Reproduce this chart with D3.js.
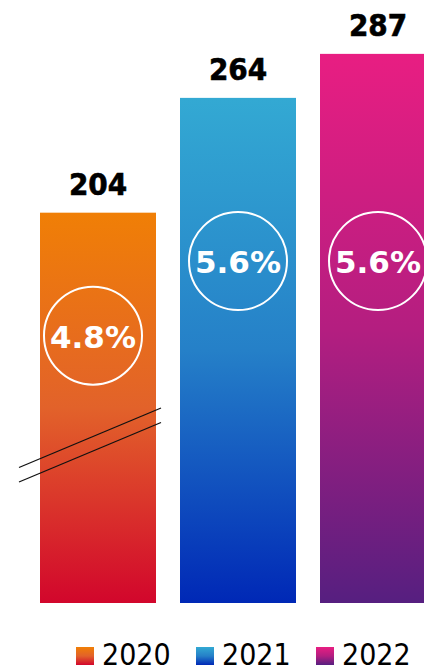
<!DOCTYPE html>
<html><head><meta charset="utf-8">
<script src="https://cdn.jsdelivr.net/npm/d3@7"></script>
<style>
html,body{margin:0;padding:0;background:#fff;}
svg{display:block;}
</style></head>
<body>
<div id="chart"></div>
<script>
const years = ["2020", "2021", "2022"];
const values = [204, 264, 287];
const growth = ["4.8%", "5.6%", "5.6%"];
const topColors = ["#F07F06", "#33A9D3", "#E81E82"];
const midColors = ["#E2622A", "#2580C8", "#B41E80"];
const bottomColors = ["#D2062C", "#0028B6", "#561F80"];

const W = 424, H = 672;
const svg = d3.select("#chart").append("svg").attr("width", W).attr("height", H);
const defs = svg.append("defs");
years.forEach((y, i) => {
  const g = defs.append("linearGradient").attr("id", "g" + i)
    .attr("x1", 0).attr("y1", 0).attr("x2", 0).attr("y2", 1);
  g.append("stop").attr("offset", "0%").attr("stop-color", topColors[i]);
  g.append("stop").attr("offset", "50%").attr("stop-color", midColors[i]);
  g.append("stop").attr("offset", "100%").attr("stop-color", bottomColors[i]);
});

const x = d3.scaleBand().domain(years).range([40, 436]).paddingInner(24 / 140).paddingOuter(0);
const y = d3.scaleLinear().domain([0, 300]).range([603, 29]);

const data = years.map((yr, i) => ({ yr, v: values[i], g: growth[i], i }));

svg.selectAll("rect.bar").data(data).join("rect").attr("class", "bar")
  .attr("x", d => x(d.yr)).attr("width", x.bandwidth())
  .attr("y", d => y(d.v)).attr("height", d => y(0) - y(d.v))
  .attr("fill", d => `url(#g${d.i})`);

svg.selectAll("text.val").data(data).join("text").attr("class", "val")
  .attr("x", d => x(d.yr) + x.bandwidth() / 2)
  .attr("y", d => y(d.v) - 18)
  .attr("text-anchor", "middle")
  .attr("font-family", "'DejaVu Sans Condensed', 'DejaVu Sans', sans-serif")
  .attr("font-stretch", "condensed")
  .attr("font-weight", "bold").attr("font-size", 31).attr("fill", "#000")
  .attr("stroke", "#000").attr("stroke-width", 0.6)
  .text(d => d.v);

// growth circles
const cy = d => Math.max(261, y(d.v) + 123);
const cx = d => x(d.yr) + x.bandwidth() / 2 + (d.i === 0 ? -5 : 0);
svg.selectAll("circle.gr").data(data).join("circle").attr("class", "gr")
  .attr("cx", cx).attr("cy", cy).attr("r", 49)
  .attr("fill", "none").attr("stroke", "#fff").attr("stroke-width", 2);
svg.selectAll("text.gr").data(data).join("text").attr("class", "gr")
  .attr("x", cx).attr("y", d => cy(d) + 12)
  .attr("text-anchor", "middle")
  .attr("font-family", "'DejaVu Sans', sans-serif")
  .attr("font-weight", "bold").attr("font-size", 31).attr("fill", "#fff")
  .text(d => d.g);

// axis break marks
const bx0 = x(years[0]);
[0, 14.5].forEach(off => {
  svg.append("line")
    .attr("x1", bx0 - 21).attr("y1", 467.5 + off)
    .attr("x2", bx0 + 121).attr("y2", 408 + off)
    .attr("stroke", "#111").attr("stroke-width", 1.3);
});

// legend
const legX = [76, 196, 316];
const leg = svg.selectAll("g.leg").data(data).join("g").attr("class", "leg")
  .attr("transform", d => `translate(${legX[d.i]},647)`);
leg.append("rect").attr("width", 18).attr("height", 18).attr("fill", d => `url(#g${d.i})`);
leg.append("text").attr("x", 26).attr("y", 18)
  .attr("font-family", "'DejaVu Sans Condensed', 'DejaVu Sans', sans-serif")
  .attr("font-stretch", "condensed")
  .attr("font-size", 30).attr("fill", "#000")
  .text(d => d.yr);
</script>
</body></html>
